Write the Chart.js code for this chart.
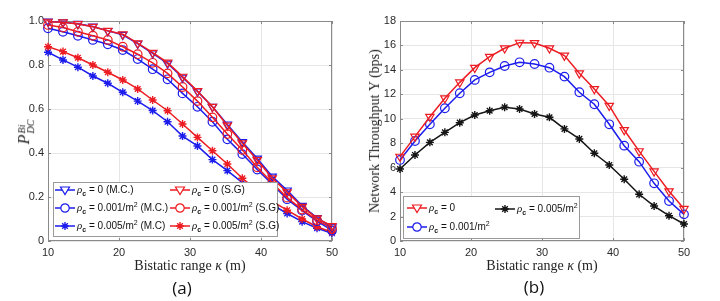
<!DOCTYPE html>
<html>
<head>
<meta charset="utf-8">
<script src="https://cdn.jsdelivr.net/npm/chart.js@4.4.1/dist/chart.umd.min.js"></script>
<style>
	body { margin: 0; background: #fff; }
	#wrap { position: relative; width: 720px; height: 301px; overflow: hidden; }
	canvas { position: absolute; top: 0; }
	.lbl { position: absolute; white-space: nowrap; color: #222; }
	.serif { font-family: 'Liberation Serif', 'Times New Roman', serif; font-size: 14px; }
	.panel { font-family: 'Open Sans', sans-serif; font-size: 17px; color: #111; transform: translate(-50%, -50%); }
	.ytitle { transform: translate(-50%, -50%) rotate(-90deg); }
	.xtitle { transform: translate(-50%, -50%); }
	.legbox { position: absolute; background: #fff; border: 1px solid #9a9a9a; box-sizing: border-box; }
	.entry { position: absolute; display: flex; align-items: center; transform: translateY(-50%);
		font-family: 'Liberation Sans', Arial, sans-serif; font-size: 10px; color: #111; white-space: nowrap; }
	.entry svg { margin-right: 2px; }
	.rho { font-family: 'Liberation Serif', serif; font-style: italic; font-size: 11px; }
	.entry sub { font-size: 7px; font-weight: bold; vertical-align: -3px; }
	.entry sup { font-size: 7px; vertical-align: 4px; }
	.pst { display: inline-flex; flex-direction: column; font-size: 10px; line-height: 9px; font-style: italic; vertical-align: middle; margin-left: 1px; }
</style>
</head>
<body>
<div id="wrap">
	<canvas id="chartA" width="360" height="301" style="left:0"></canvas>
	<canvas id="chartB" width="360" height="301" style="left:360px"></canvas>

	<div class="lbl serif ytitle" style="left:25px;top:132px"><i style="font-size:16px">P</i><span class="pst"><span>Bi</span><span>DC</span></span></div>
	<div class="lbl serif xtitle" style="left:190px;top:266px">Bistatic range <i>κ</i> (m)</div>
	<div class="lbl panel" style="left:182px;top:287px">(a)</div>

	<div class="lbl serif ytitle" style="left:375px;top:131px">Network Throughput Υ (bps)</div>
	<div class="lbl serif xtitle" style="left:542px;top:266px">Bistatic range <i>κ</i> (m)</div>
	<div class="lbl panel" style="left:534px;top:286px">(b)</div>

	<div class="legbox" style="left:53px;top:182px;width:225px;height:55px"></div>
	<div class="legbox" style="left:403px;top:196px;width:177px;height:43px"></div>
</div>

<script>
var kappa = [10, 12.11, 14.21, 16.32, 18.42, 20.53, 22.63, 24.74, 26.84, 28.95, 31.05, 33.16, 35.26, 37.37, 39.47, 41.58, 43.68, 45.79, 47.89, 50];

// (a) detection probability
var mcRho0 = [0.998, 0.994, 0.987, 0.975, 0.955, 0.937, 0.897, 0.853, 0.807, 0.743, 0.68, 0.61, 0.53, 0.45, 0.375, 0.293, 0.23, 0.16, 0.105, 0.063];
var mcRho1 = [0.967, 0.951, 0.933, 0.914, 0.894, 0.868, 0.827, 0.781, 0.735, 0.671, 0.61, 0.542, 0.462, 0.395, 0.325, 0.258, 0.19, 0.138, 0.09, 0.048];
var mcRho5 = [0.858, 0.823, 0.79, 0.75, 0.717, 0.676, 0.636, 0.593, 0.542, 0.477, 0.432, 0.37, 0.32, 0.265, 0.21, 0.165, 0.125, 0.088, 0.058, 0.035];
var sgRho0 = [0.997, 0.994, 0.986, 0.974, 0.956, 0.94, 0.899, 0.856, 0.811, 0.747, 0.682, 0.61, 0.525, 0.444, 0.368, 0.285, 0.222, 0.156, 0.103, 0.068];
var sgRho1 = [0.982, 0.97, 0.951, 0.933, 0.914, 0.883, 0.849, 0.81, 0.762, 0.7, 0.636, 0.562, 0.486, 0.414, 0.335, 0.265, 0.197, 0.143, 0.095, 0.058];
var sgRho5 = [0.883, 0.861, 0.833, 0.8, 0.767, 0.732, 0.691, 0.641, 0.592, 0.532, 0.471, 0.41, 0.35, 0.285, 0.23, 0.18, 0.14, 0.1, 0.065, 0.04];

// (b) throughput
var thrRho0 = [6.9, 8.54, 10.17, 11.68, 12.98, 14.18, 15.08, 15.77, 16.23, 16.2, 15.77, 15.17, 13.72, 12.44, 11.07, 9.08, 7.35, 5.7, 4.07, 2.63];
var thrRho1 = [6.63, 8.18, 9.55, 10.86, 12.09, 13.18, 13.8, 14.32, 14.62, 14.48, 14.18, 13.45, 12.17, 11.19, 9.55, 7.8, 6.49, 4.72, 3.27, 2.18];
var thrRho5 = [5.89, 7.04, 8.07, 8.89, 9.68, 10.31, 10.66, 10.94, 10.8, 10.39, 10.12, 9.17, 8.35, 7.18, 6.22, 5.05, 3.82, 2.86, 2.07, 1.39];

var xTicks = [10, 20, 30, 40, 50];
var yTicksA = [0, 0.2, 0.4, 0.6, 0.8, 1];
var yTicksB = [0, 2, 4, 6, 8, 10, 12, 14, 16, 18];

var legendA = [
	['tri', 'blue', ' = 0 (M.C.)', false],
	['circ', 'blue', ' = 0.001/m', ' (M.C.)'],
	['star', 'blue', ' = 0.005/m', ' (M.C)'],
	['tri', 'red', ' = 0 (S.G)', false],
	['circ', 'red', ' = 0.001/m', ' (S.G)'],
	['star', 'red', ' = 0.005/m', ' (S.G)']
];
var legendB = [
	['tri', 'red', ' = 0', false],
	['circ', 'blue', ' = 0.001/m', ''],
	['star', 'black', ' = 0.005/m', '']
];

var RED = 'rgb(236,28,34)', BLUE = 'rgb(28,28,236)', BLACK = '#151515';
var col = { red: RED, blue: BLUE, black: BLACK };

function pts(ys) {
	return ys.map(function(y, i) { return { x: kappa[i], y: y }; });
}

function series(label, ys, color, marker, order) {
	var d = {
		label: label, data: pts(ys), borderColor: color, borderWidth: 1.5,
		pointBorderColor: color, pointBackgroundColor: 'rgba(255,255,255,0)',
		pointBorderWidth: 1.2, pointRadius: 4.3, clip: false, order: order
	};
	if (marker == 'tri') { d.pointStyle = 'triangle'; d.pointRotation = 180; d.pointRadius = 4.8; }
	if (marker == 'circ') { d.pointStyle = 'circle'; d.pointRadius = 4.3; }
	if (marker == 'star') { d.pointStyle = 'star'; d.pointRadius = 4; d.pointBorderWidth = 1.4; }
	return d;
}

var frame = {
	id: 'frame',
	beforeDatasetsDraw: function(chart) {
		var ctx = chart.ctx, a = chart.chartArea;
		var sx = chart.scales.x, sy = chart.scales.y;
		ctx.save();
		ctx.strokeStyle = '#8a8a8a';
		ctx.lineWidth = 1;
		ctx.strokeRect(Math.round(a.left) + 0.5, Math.round(a.top) + 0.5, Math.round(a.width) - 1, Math.round(a.height) - 1);
		ctx.beginPath();
		sx.ticks.forEach(function(t) {
			var x = Math.round(sx.getPixelForValue(t.value)) + 0.5;
			ctx.moveTo(x, a.bottom); ctx.lineTo(x, a.bottom - 3);
			ctx.moveTo(x, a.top); ctx.lineTo(x, a.top + 3);
		});
		sy.ticks.forEach(function(t) {
			var y = Math.round(sy.getPixelForValue(t.value)) + 0.5;
			ctx.moveTo(a.left, y); ctx.lineTo(a.left + 3, y);
			ctx.moveTo(a.right, y); ctx.lineTo(a.right - 3, y);
		});
		ctx.stroke();
		ctx.restore();
	}
};

function makeChart(id, datasets, yTicks, yWidth, padRight) {
	var tickFont = { family: "'Liberation Sans', Arial, sans-serif", size: 11 };
	return new Chart(document.getElementById(id), {
		type: 'line',
		data: { datasets: datasets },
		options: {
			responsive: false,
			animation: false,
			layout: { padding: { top: 21, right: padRight, left: 0, bottom: 0 } },
			plugins: { legend: { display: false }, tooltip: { enabled: false } },
			scales: {
				x: {
					type: 'linear', min: 10, max: 50,
					afterBuildTicks: function(s) { s.ticks = xTicks.map(function(v) { return { value: v }; }); },
					afterFit: function(s) { s.height = 60; },
					grid: { color: '#e6e6e6', drawTicks: false },
					border: { display: false },
					ticks: { font: tickFont, color: '#2a2a2a', padding: 5, maxRotation: 0 }
				},
				y: {
					min: yTicks[0], max: yTicks[yTicks.length - 1],
					afterBuildTicks: function(s) { s.ticks = yTicks.map(function(v) { return { value: v }; }); },
					afterFit: function(s) { s.width = yWidth; },
					grid: { color: '#e6e6e6', drawTicks: false },
					border: { display: false },
					ticks: { font: tickFont, color: '#2a2a2a', padding: 4 }
				}
			}
		},
		plugins: [frame]
	});
}

makeChart('chartA', [
	series('ρc = 0 (S.G)', sgRho0, RED, 'tri', 1),
	series('ρc = 0 (M.C.)', mcRho0, BLUE, 'tri', 2),
	series('ρc = 0.001/m2 (S.G)', sgRho1, RED, 'circ', 3),
	series('ρc = 0.001/m2 (M.C.)', mcRho1, BLUE, 'circ', 4),
	series('ρc = 0.005/m2 (S.G)', sgRho5, RED, 'star', 5),
	series('ρc = 0.005/m2 (M.C)', mcRho5, BLUE, 'star', 6)
], yTicksA, 48, 28);

makeChart('chartB', [
	series('ρc = 0', thrRho0, RED, 'tri', 1),
	series('ρc = 0.001/m2', thrRho1, BLUE, 'circ', 2),
	series('ρc = 0.005/m2', thrRho5, BLACK, 'star', 3)
], yTicksB, 40, 36);

// legend samples, drawn as small svg
function markerSvg(kind, c) {
	var s = '<svg width="20" height="12"><line x1="0" y1="6" x2="20" y2="6" stroke="' + c + '" stroke-width="1.5"/>';
	if (kind == 'tri') s += '<polygon points="5.5,3 14.5,3 10,10.5" fill="#fff" stroke="' + c + '" stroke-width="1.2"/>';
	if (kind == 'circ') s += '<circle cx="10" cy="6" r="4.2" fill="#fff" stroke="' + c + '" stroke-width="1.2"/>';
	if (kind == 'star') s += '<path d="M6,6H14M10,2V10M7.2,3.2L12.8,8.8M12.8,3.2L7.2,8.8" stroke="' + c + '" stroke-width="1.4"/>';
	return s + '</svg>';
}

function addEntry(e, left, top) {
	var div = document.createElement('div');
	div.className = 'entry';
	div.style.left = left + 'px';
	div.style.top = top + 'px';
	var txt = '<span class="rho">ρ</span><sub>c</sub>' + e[2];
	if (e[3] !== false) txt += '<sup>2</sup>' + e[3];
	div.innerHTML = markerSvg(e[0], col[e[1]]) + '<span>' + txt + '</span>';
	document.getElementById('wrap').appendChild(div);
}

var rowsA = [189.5, 207.5, 225.5];
legendA.forEach(function(e, i) {
	addEntry(e, i < 3 ? 55 : 170, rowsA[i % 3]);
});
addEntry(legendB[0], 407, 207.5);
addEntry(legendB[1], 407, 226.5);
addEntry(legendB[2], 495, 209);
</script>
</body>
</html>
